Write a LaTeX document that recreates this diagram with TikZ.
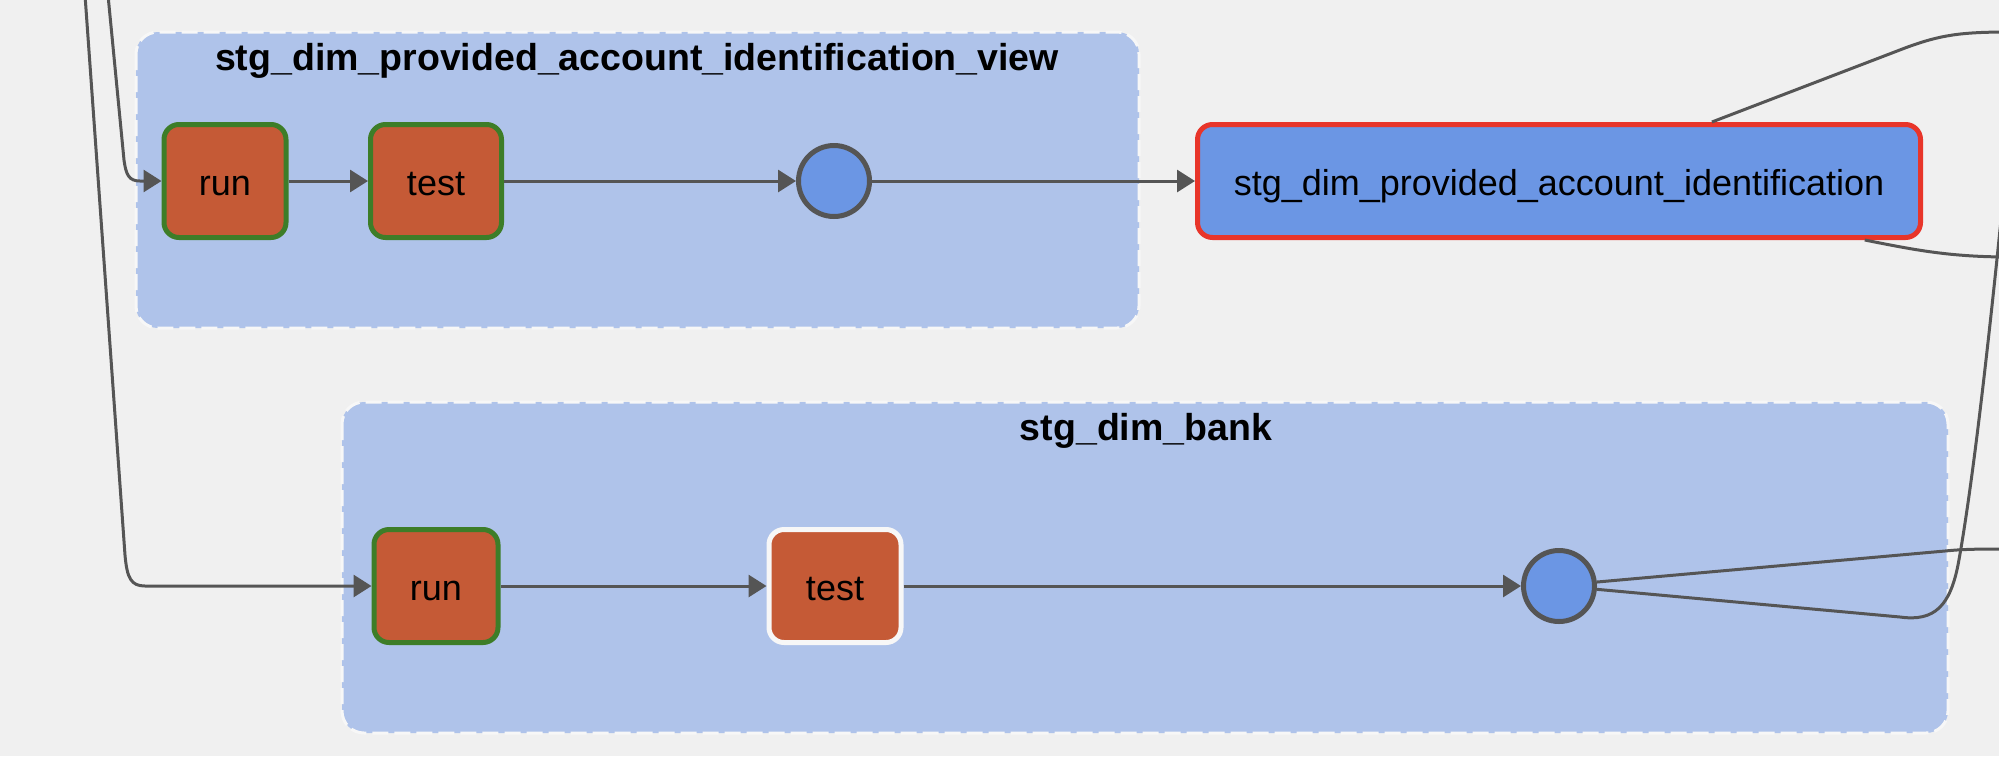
\documentclass[tikz,border=0pt]{standalone}
\usepackage{fontspec}
\setmainfont{Liberation Sans}
\usetikzlibrary{
    calc,
    arrows.meta
}
\definecolor{canvasgray}{HTML}{F0F0F0}
\definecolor{groupblue}{HTML}{AFC3EA}
\definecolor{groupline}{HTML}{F7F7F7}
\definecolor{taskred}{HTML}{C55A36}
\definecolor{okgreen}{HTML}{3D7D28}
\definecolor{nodeblue}{HTML}{6B96E4}
\definecolor{failred}{HTML}{E8352A}
\definecolor{edgegray}{HTML}{555555}

\begin{document}
\begin{tikzpicture}[x=1pt, y=-1pt,
    groupbox/.style={fill=groupblue, draw=groupline, line width=3pt,
      dash pattern=on 16pt off 6pt, rounded corners=22pt},
    grouptitle/.style={anchor=base, font=\fontsize{37.5}{40}\selectfont\bfseries},
    task/.style={rectangle, rounded corners=15pt, fill=taskred, line width=5pt,
      minimum height=113pt, inner sep=0pt, text height=28pt, text depth=0pt,
      font=\fontsize{36}{40}\selectfont},
    gate/.style={circle, fill=nodeblue, draw=edgegray, line width=5pt,
      minimum size=71pt, inner sep=0pt},
    model/.style={rectangle, rounded corners=15pt, fill=nodeblue, draw=failred,
      line width=5pt, minimum width=723pt, minimum height=113pt, inner sep=0pt,
      text height=28pt, text depth=0pt, font=\fontsize{36}{40}\selectfont},
    wire/.style={draw=edgegray, line width=3pt},
    flow/.style={wire, -{Triangle[length=18pt, width=22pt]}}
  ]
  \useasboundingbox (0,0) rectangle (1999,756);
  \fill[canvasgray] (0,0) rectangle (1999,756);
  \clip (0,0) rectangle (1999,756);

  \draw[groupbox] (136,32) rectangle (1139,328);
  \draw[groupbox] (342,402) rectangle (1948,733);
  \node[grouptitle] (title1) at (637,70) {stg\_dim\_provided\_account\_identification\_view};
  \node[grouptitle] (title2) at (1146,440) {stg\_dim\_bank};

  \node[task, draw=okgreen, minimum width=122pt] (run1) at (225,181) {run};
  \node[task, draw=okgreen, minimum width=131pt] (test1) at (436,181) {test};
  \node[gate] (gate1) at (834,181) {};
  \node[model] (acct) at (1559,181) {stg\_dim\_provided\_account\_identification};

  \node[task, draw=okgreen, minimum width=124pt] (run2) at (436,586) {run};
  \node[task, draw=groupline, minimum width=132pt] (test2) at (835,586) {test};
  \node[gate] (gate2) at (1559,586) {};

  \draw[flow] (run1) -- (test1);
  \draw[flow] (test1) -- (gate1);
  \draw[flow] (gate1) -- (acct);
  \draw[flow] (run2) -- (test2);
  \draw[flow] (test2) -- (gate2);
%
  \coordinate (inA) at (85,-5);
  \coordinate (inB) at (108,-5);
  \coordinate (outA) at (2010,32);
  \coordinate (outB) at (2010,257);
  \coordinate (outC) at (2010,549);
  \coordinate (outD) at (2004,190);

  \draw[flow] (inB) -- (124,160) .. controls (126,175) and (129,181) .. (140,181) -- (run1);
  \draw[flow] (inA) -- (125,555) .. controls (127,578) and (131,586) .. (145,586) -- (run2);

  \draw[wire] ($(acct.north west)!0.71!(acct.north east)$) -- (1905,48)
    .. controls (1940,35) and (1960,32) .. (outA);
  \draw[wire] ($(acct.south west)!0.92!(acct.south east)$)
    .. controls (1915,250) and (1950,257) .. (outB);
  \draw[wire] (gate2.6) -- (1945,551) .. controls (1965,549) and (1980,549) .. (outC);
  \draw[wire] (gate2.-5) -- (1900,617) .. controls (1935,622) and (1950,605) .. (1958,565)
    .. controls (1970,500) and (1985,380) .. (outD);
\end{tikzpicture}
\end{document}
